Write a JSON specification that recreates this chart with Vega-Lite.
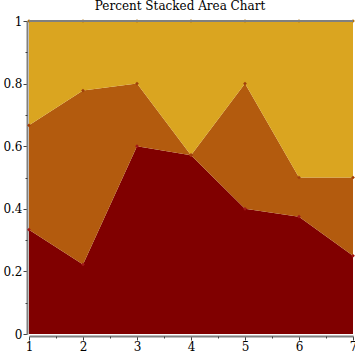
{
  "$schema": "https://vega.github.io/schema/vega-lite/v6.json",
  "autosize": "none",
  "width": 324,
  "height": 313,
  "padding": {"left": 29, "top": 21, "right": 2, "bottom": 21},
  "background": "white",
  "title": {"text": "Percent Stacked Area Chart", "font": "DejaVu Serif", "fontSize": 12, "fontWeight": "normal", "color": "black", "anchor": "middle", "dx": -11, "offset": 2},
  "config": {"view": {"stroke": null}},
  "data": {"values": [
    {"x": 1, "series": "A", "ord": 1, "value": 1},
    {"x": 1, "series": "B", "ord": 2, "value": 1},
    {"x": 1, "series": "C", "ord": 3, "value": 1},
    {"x": 2, "series": "A", "ord": 1, "value": 2},
    {"x": 2, "series": "B", "ord": 2, "value": 5},
    {"x": 2, "series": "C", "ord": 3, "value": 2},
    {"x": 3, "series": "A", "ord": 1, "value": 3},
    {"x": 3, "series": "B", "ord": 2, "value": 1},
    {"x": 3, "series": "C", "ord": 3, "value": 1},
    {"x": 4, "series": "A", "ord": 1, "value": 4},
    {"x": 4, "series": "B", "ord": 2, "value": 0},
    {"x": 4, "series": "C", "ord": 3, "value": 3},
    {"x": 5, "series": "A", "ord": 1, "value": 2},
    {"x": 5, "series": "B", "ord": 2, "value": 2},
    {"x": 5, "series": "C", "ord": 3, "value": 1},
    {"x": 6, "series": "A", "ord": 1, "value": 3},
    {"x": 6, "series": "B", "ord": 2, "value": 1},
    {"x": 6, "series": "C", "ord": 3, "value": 4},
    {"x": 7, "series": "A", "ord": 1, "value": 1},
    {"x": 7, "series": "B", "ord": 2, "value": 1},
    {"x": 7, "series": "C", "ord": 3, "value": 2}
  ]},
  "layer": [
    {
      "mark": {"type": "area", "interpolate": "linear"},
      "encoding": {
        "x": {"field": "x", "type": "quantitative", "scale": {"domain": [1, 7], "nice": false, "zero": false},
          "axis": {"title": null, "values": [1, 2, 3, 4, 5, 6, 7], "format": "d", "orient": "bottom", "offset": 2, "grid": false,
            "domainColor": "#808080", "domainWidth": 2, "tickColor": "#404040", "tickSize": 4, "tickWidth": 1,
            "labelFont": "DejaVu Serif", "labelFontSize": 12, "labelColor": "black", "labelPadding": 1, "labelFlush": false, "labelOverlap": false}},
        "y": {"field": "value", "type": "quantitative", "stack": "normalize", "scale": {"domain": [0, 1], "nice": false},
          "axis": {"title": null, "values": [0, 0.2, 0.4, 0.6, 0.8, 1], "labelExpr": "format(datum.value, '.1~f')", "orient": "left", "offset": 2, "grid": false,
            "domainColor": "#808080", "domainWidth": 2, "tickColor": "#404040", "tickSize": 4, "tickWidth": 1,
            "labelFont": "DejaVu Serif", "labelFontSize": 12, "labelColor": "black", "labelPadding": 1, "labelFlush": false, "labelOverlap": false}},
        "color": {"field": "series", "type": "nominal", "scale": {"domain": ["A", "B", "C"], "range": ["#800000", "#b35b0e", "#daa520"]}, "legend": null},
        "order": {"field": "ord", "type": "quantitative"}
      }
    },
    {
      "mark": {"type": "point", "shape": "diamond", "filled": true, "size": 14, "opacity": 1},
      "encoding": {
        "x": {"field": "x", "type": "quantitative",
          "axis": {"title": null, "values": [1.5, 2.5, 3.5, 4.5, 5.5, 6.5], "labels": false, "domain": false, "orient": "bottom", "offset": 2, "grid": false, "tickColor": "#404040", "tickSize": 2, "tickWidth": 1}},
        "y": {"field": "value", "type": "quantitative", "stack": "normalize",
          "axis": {"title": null, "values": [0.1, 0.3, 0.5, 0.7, 0.9], "labels": false, "domain": false, "orient": "left", "offset": 2, "grid": false, "tickColor": "#404040", "tickSize": 2, "tickWidth": 1}},
        "color": {"field": "series", "type": "nominal", "scale": {"domain": ["A", "B", "C"], "range": ["#a01818", "#a0400c", "#b07010"]}, "legend": null},
        "order": {"field": "ord", "type": "quantitative"}
      }
    },
    {
      "mark": {"type": "rule", "color": "#808080", "strokeWidth": 2},
      "data": {"values": [{"a": 1, "b": 7, "top": 1}]},
      "encoding": {
        "x": {"field": "a", "type": "quantitative", "axis": null},
        "x2": {"field": "b"},
        "y": {"field": "top", "type": "quantitative", "axis": null}
      }
    }
  ],
  "resolve": {"axis": {"x": "independent", "y": "independent"}, "scale": {"color": "independent"}}
}
